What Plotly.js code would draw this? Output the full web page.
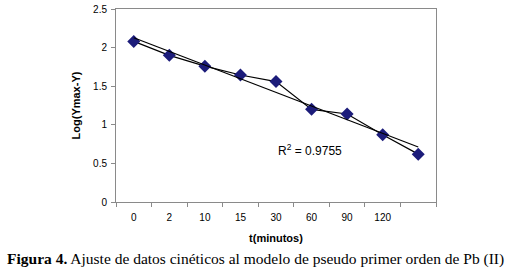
<!DOCTYPE html>
<html><head><meta charset="utf-8">
<script src="https://cdn.plot.ly/plotly-3.0.1.min.js"></script>
<style>html,body{margin:0;padding:0;background:#fff}#c{width:509px;height:280px}</style>
</head><body><div id="c"></div>
<script>
var categories = ["0","2","10","15","30","60","90","120"," "];
var logValues = [2.08, 1.90, 1.76, 1.645, 1.56, 1.20, 1.14, 0.87, 0.62];
var yTicks = [0, 0.5, 1, 1.5, 2, 2.5];
var r2Text = "R<sup>2</sup> = 0.9755";
var captionBold = "Figura 4.";
var captionRest = " Ajuste de datos cinéticos al modelo de pseudo primer orden de Pb (II)";

// linear least-squares trend over category index (as Excel does)
var n = logValues.length, sx=0, sy=0, sxy=0, sxx=0;
for (var i=0;i<n;i++){sx+=i;sy+=logValues[i];sxy+=i*logValues[i];sxx+=i*i;}
var slope=(n*sxy-sx*sy)/(n*sxx-sx*sx), icpt=(sy-slope*sx)/n;
var trend = [icpt, icpt+slope*(n-1)];

var traces = [
 {x:categories, y:logValues, type:'scatter', mode:'lines+markers',
  line:{color:'#000', width:1.2},
  marker:{symbol:'diamond', size:10, color:'#1c1c7a'}, showlegend:false, hoverinfo:'skip'},
 {x:[categories[0], categories[n-1]], y:trend, type:'scatter', mode:'lines',
  line:{color:'#000', width:1.2}, showlegend:false, hoverinfo:'skip'}
];
var layout = {
 width:509, height:280, margin:{l:116, r:73, t:9, b:78},
 paper_bgcolor:'#fff', plot_bgcolor:'#fff',
 font:{family:'Liberation Sans, Arial, sans-serif', size:10, color:'#000'},
 xaxis:{type:'category', categoryarray:categories, categoryorder:'array',
  showgrid:false, zeroline:false, showline:true, linecolor:'#8a8a8a', linewidth:1, mirror:true,
  ticks:'outside', tickson:'boundaries', ticklen:4, tickcolor:'#8a8a8a',
  tickfont:{size:10}, range:[-0.5, n-0.5], ticklabelstandoff:6,
  title:{text:'<b>t(minutos)</b>', font:{size:11}, standoff:12}},
 yaxis:{range:[0,2.5], tickvals:yTicks, ticktext:['0','0.5','1','1.5','2','2.5'],
  showgrid:false, zeroline:false, showline:true, linecolor:'#8a8a8a', linewidth:1, mirror:true,
  ticks:'outside', ticklen:4, tickcolor:'#8a8a8a', tickfont:{size:10}, ticklabelstandoff:2,
  title:{text:'<b>Log(Ymax-Y)</b>', font:{size:11}, standoff:10}},
 annotations:[
  {xref:'paper', yref:'paper', x:0.605, y:0.27, xanchor:'center', yanchor:'middle',
   text:r2Text, showarrow:false, font:{size:12}},
  {xref:'paper', yref:'paper', x:0.5, y:-0.295, yanchor:'middle', xanchor:'center',
   xshift:-21,
   text:'<b>'+captionBold+'</b>'+captionRest, showarrow:false,
   font:{family:'Liberation Serif, Times New Roman, serif', size:15.5}}
 ]
};
Plotly.newPlot('c', traces, layout, {staticPlot:true});
</script></body></html>
